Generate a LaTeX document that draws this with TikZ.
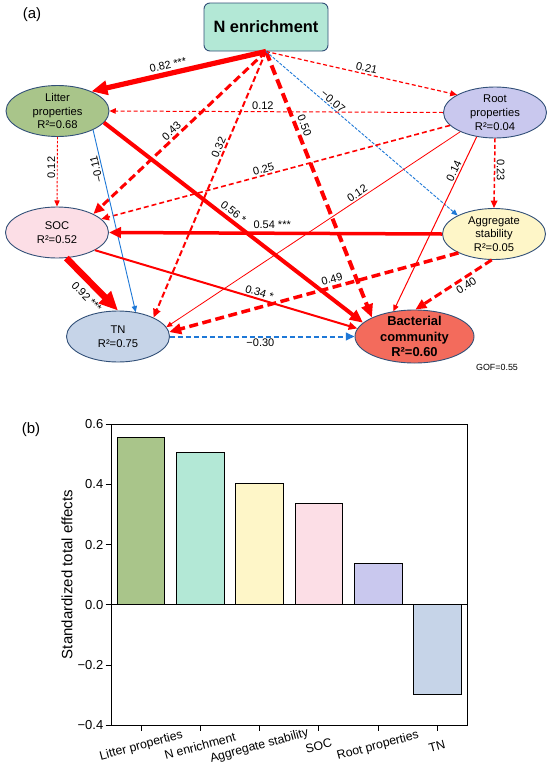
\documentclass[tikz,border=0pt]{standalone}
\usepackage{fontspec}
\setmainfont{Liberation Sans}
\usetikzlibrary{shapes.geometric,arrows.meta}
\definecolor{cN}{RGB}{179,232,214}
\definecolor{cL}{RGB}{169,197,138}
\definecolor{cR}{RGB}{201,200,238}
\definecolor{cS}{RGB}{252,222,230}
\definecolor{cA}{RGB}{254,246,200}
\definecolor{cT}{RGB}{198,212,232}
\definecolor{cB}{RGB}{243,107,92}
\definecolor{cbd}{RGB}{50,80,120}
\definecolor{ered}{RGB}{255,0,0}
\definecolor{eblue}{RGB}{30,120,215}
\tikzset{
  ell/.style={ellipse, draw=cbd, line width=0.9pt, minimum width=103pt, minimum height=51pt,
     inner xsep=0pt, inner ysep=-3pt, align=center, font=\fontsize{11.2}{13.7}\selectfont},
  e/.style={draw=ered, line width=#1, -{Triangle[length=4pt 2.3, width=3.5pt 2]}},
  eb/.style={draw=eblue, line width=#1, -{Triangle[length=4pt 2.3, width=3.5pt 2]}},
  lab/.style={font=\fontsize{11}{11}\selectfont, text=black, inner sep=1.5pt},
  bar/.style={draw=black, line width=1pt},
  tlab/.style={font=\fontsize{13}{13}\selectfont, anchor=east, inner sep=0pt},
  xlab/.style={font=\fontsize{12.3}{13}\selectfont, rotate=15, inner sep=0pt}
}
\begin{document}
\begin{tikzpicture}[x=1pt,y=-1pt]
\useasboundingbox (0,0) rectangle (550,769);
\fill[white] (0,0) rectangle (550,769);
% panel labels
\node[font=\fontsize{15}{15}\selectfont] (pa) at (32,15) {(a)};
\node[font=\fontsize{15}{15}\selectfont] (pb) at (31,430) {(b)};
% nodes
\node[draw=cbd, fill=cN, line width=0.9pt, rounded corners=6pt, minimum width=124pt, minimum height=48pt,
      font=\fontsize{16.4}{18}\selectfont\bfseries] (N) at (266,27) {N enrichment};
\node[ell, fill=cL] (L) at (57.5,111) {Litter\\properties\\R²=0.68};
\node[ell, fill=cR] (R) at (495,112.5) {Root\\properties\\R²=0.04};
\node[ell, fill=cS] (S) at (57,232.5) {SOC\\R²=0.52};
\node[ell, fill=cA] (A) at (494,234) {Aggregate\\stability\\R²=0.05};
\node[ell, fill=cT] (T) at (118,336.5) {TN\\R²=0.75};
\node[ell, fill=cB, minimum width=119pt, minimum height=53pt, inner ysep=-5pt,
      font=\fontsize{12.9}{15.5}\selectfont\bfseries] (B) at (414.5,336.5) {Bacterial\\community\\R²=0.60};
\node[font=\fontsize{8.9}{9}\selectfont] (gof) at (497,367) {GOF=0.55};
% edges
\draw[e=5.2pt] (N.south) -- (L.30) node[lab,pos=.55,sloped,above=1pt]{0.82 ***};
\draw[e=1.2pt, dash pattern=on 4pt off 2.5pt] (N.south) -- (R.155) node[lab,pos=.52,sloped,above]{0.21};
\draw[e=3pt, dash pattern=on 8pt off 4pt] (N.south) -- (S.27) node[lab,pos=.52,sloped,above]{0.43};
\draw[e=2pt, dash pattern=on 6pt off 3pt] (N.south) -- (T.28) node[lab,pos=.37,sloped,above]{0.32};
\draw[e=4pt, dash pattern=on 10pt off 5pt] (N.south) -- (B.156) node[lab,pos=.29,sloped,above=1pt]{0.50};
\draw[eb=0.9pt, dash pattern=on 3pt off 1.5pt] (N.south) -- (A.153) node[lab,pos=.33,sloped,above]{−0.07};
\draw[e=1pt, dash pattern=on 4pt off 2.5pt] (R.west) -- (L.east) node[lab,pos=.54,above]{0.12};
\draw[e=1.6pt, dash pattern=on 5pt off 3pt] (R.196) -- (S.17) node[lab,pos=.53,sloped,above]{0.25};
\draw[e=0.8pt] (R.209) -- (T.11) node[lab,pos=.34,sloped,above]{0.12};
\draw[e=1pt] (R.233) -- (B.130) node[lab,pos=.21,sloped,above]{0.14};
\draw[e=1.5pt, dash pattern=on 4pt off 2.5pt] (R.south) -- (A.north) node[lab,pos=.45,rotate=-90,anchor=south]{0.23};
\draw[e=0.9pt, dash pattern=on 2.5pt off 1.5pt] (L.south) -- (S.north) node[lab,pos=.44,rotate=90,anchor=south]{0.12};
\draw[eb=0.9pt] (L.-28) -- (T.54) node[lab,pos=.21,rotate=103,anchor=south]{−0.11};
\draw[e=4pt] (L.-14) -- (B.165) node[lab,pos=.48,sloped,above=1pt]{0.56 *};
\draw[e=6.5pt] (S.-70) -- (T.north) node[lab,pos=.57,sloped,below=4pt]{0.92 ***};
\draw[e=2pt] (S.-25) -- (B.172) node[lab,pos=.62,sloped,above]{0.34 *};
\draw[e=3.5pt] (A.west) -- (S.east) node[lab,pos=.51,above=1pt]{0.54 ***};
\draw[e=3.5pt, dash pattern=on 9pt off 4.5pt] (A.208) -- (T.5) node[lab,pos=.43,sloped,above=1pt]{0.49};
\draw[e=3pt, dash pattern=on 8pt off 4pt] (A.265) -- (B.88) node[lab,pos=.39,sloped,below=1pt]{0.40};
\draw[eb=2pt, dash pattern=on 5pt off 3pt] (T.east) -- (B.west) node[lab,pos=.49,below]{−0.30};
% bar chart
\draw[bar, fill=cL] (117.7,604.7) rectangle (164.7,437.4);
\draw[bar, fill=cN] (176,604.7) rectangle (224,452.3);
\draw[bar, fill=cA] (235.7,604.7) rectangle (283.3,483.3);
\draw[bar, fill=cS] (295.3,604.7) rectangle (342.3,503.3);
\draw[bar, fill=cR] (354.3,604.7) rectangle (402,563);
\draw[bar, fill=cT] (413.7,604.7) rectangle (461.3,694);
\draw[line width=1pt] (111,424) rectangle (467,725.3);
\draw[line width=1pt] (111,604.7) -- (467,604.7);
\foreach \yy/\tt [count=\i] in {424/0.6,484.3/0.4,544.6/0.2,604.7/0.0,665/−0.2,725.3/−0.4}{
  \draw[line width=1pt] (105.5,\yy) -- (111,\yy);
  \node[tlab] (yt\i) at (103.5,\yy) {\tt};
}
\foreach \xx/\tt [count=\i] in {141.3/Litter properties,200/N enrichment,259.3/Aggregate stability,318.7/SOC,378/Root properties,437/TN}{
  \draw[line width=1pt] (\xx,725.3) -- (\xx,730.5);
  \node[xlab] (xt\i) at (\xx,746) {\tt};
}
\node[font=\fontsize{15}{15}\selectfont, rotate=90] (ytitle) at (67,574.5) {Standardized total effects};
\end{tikzpicture}
\end{document}
